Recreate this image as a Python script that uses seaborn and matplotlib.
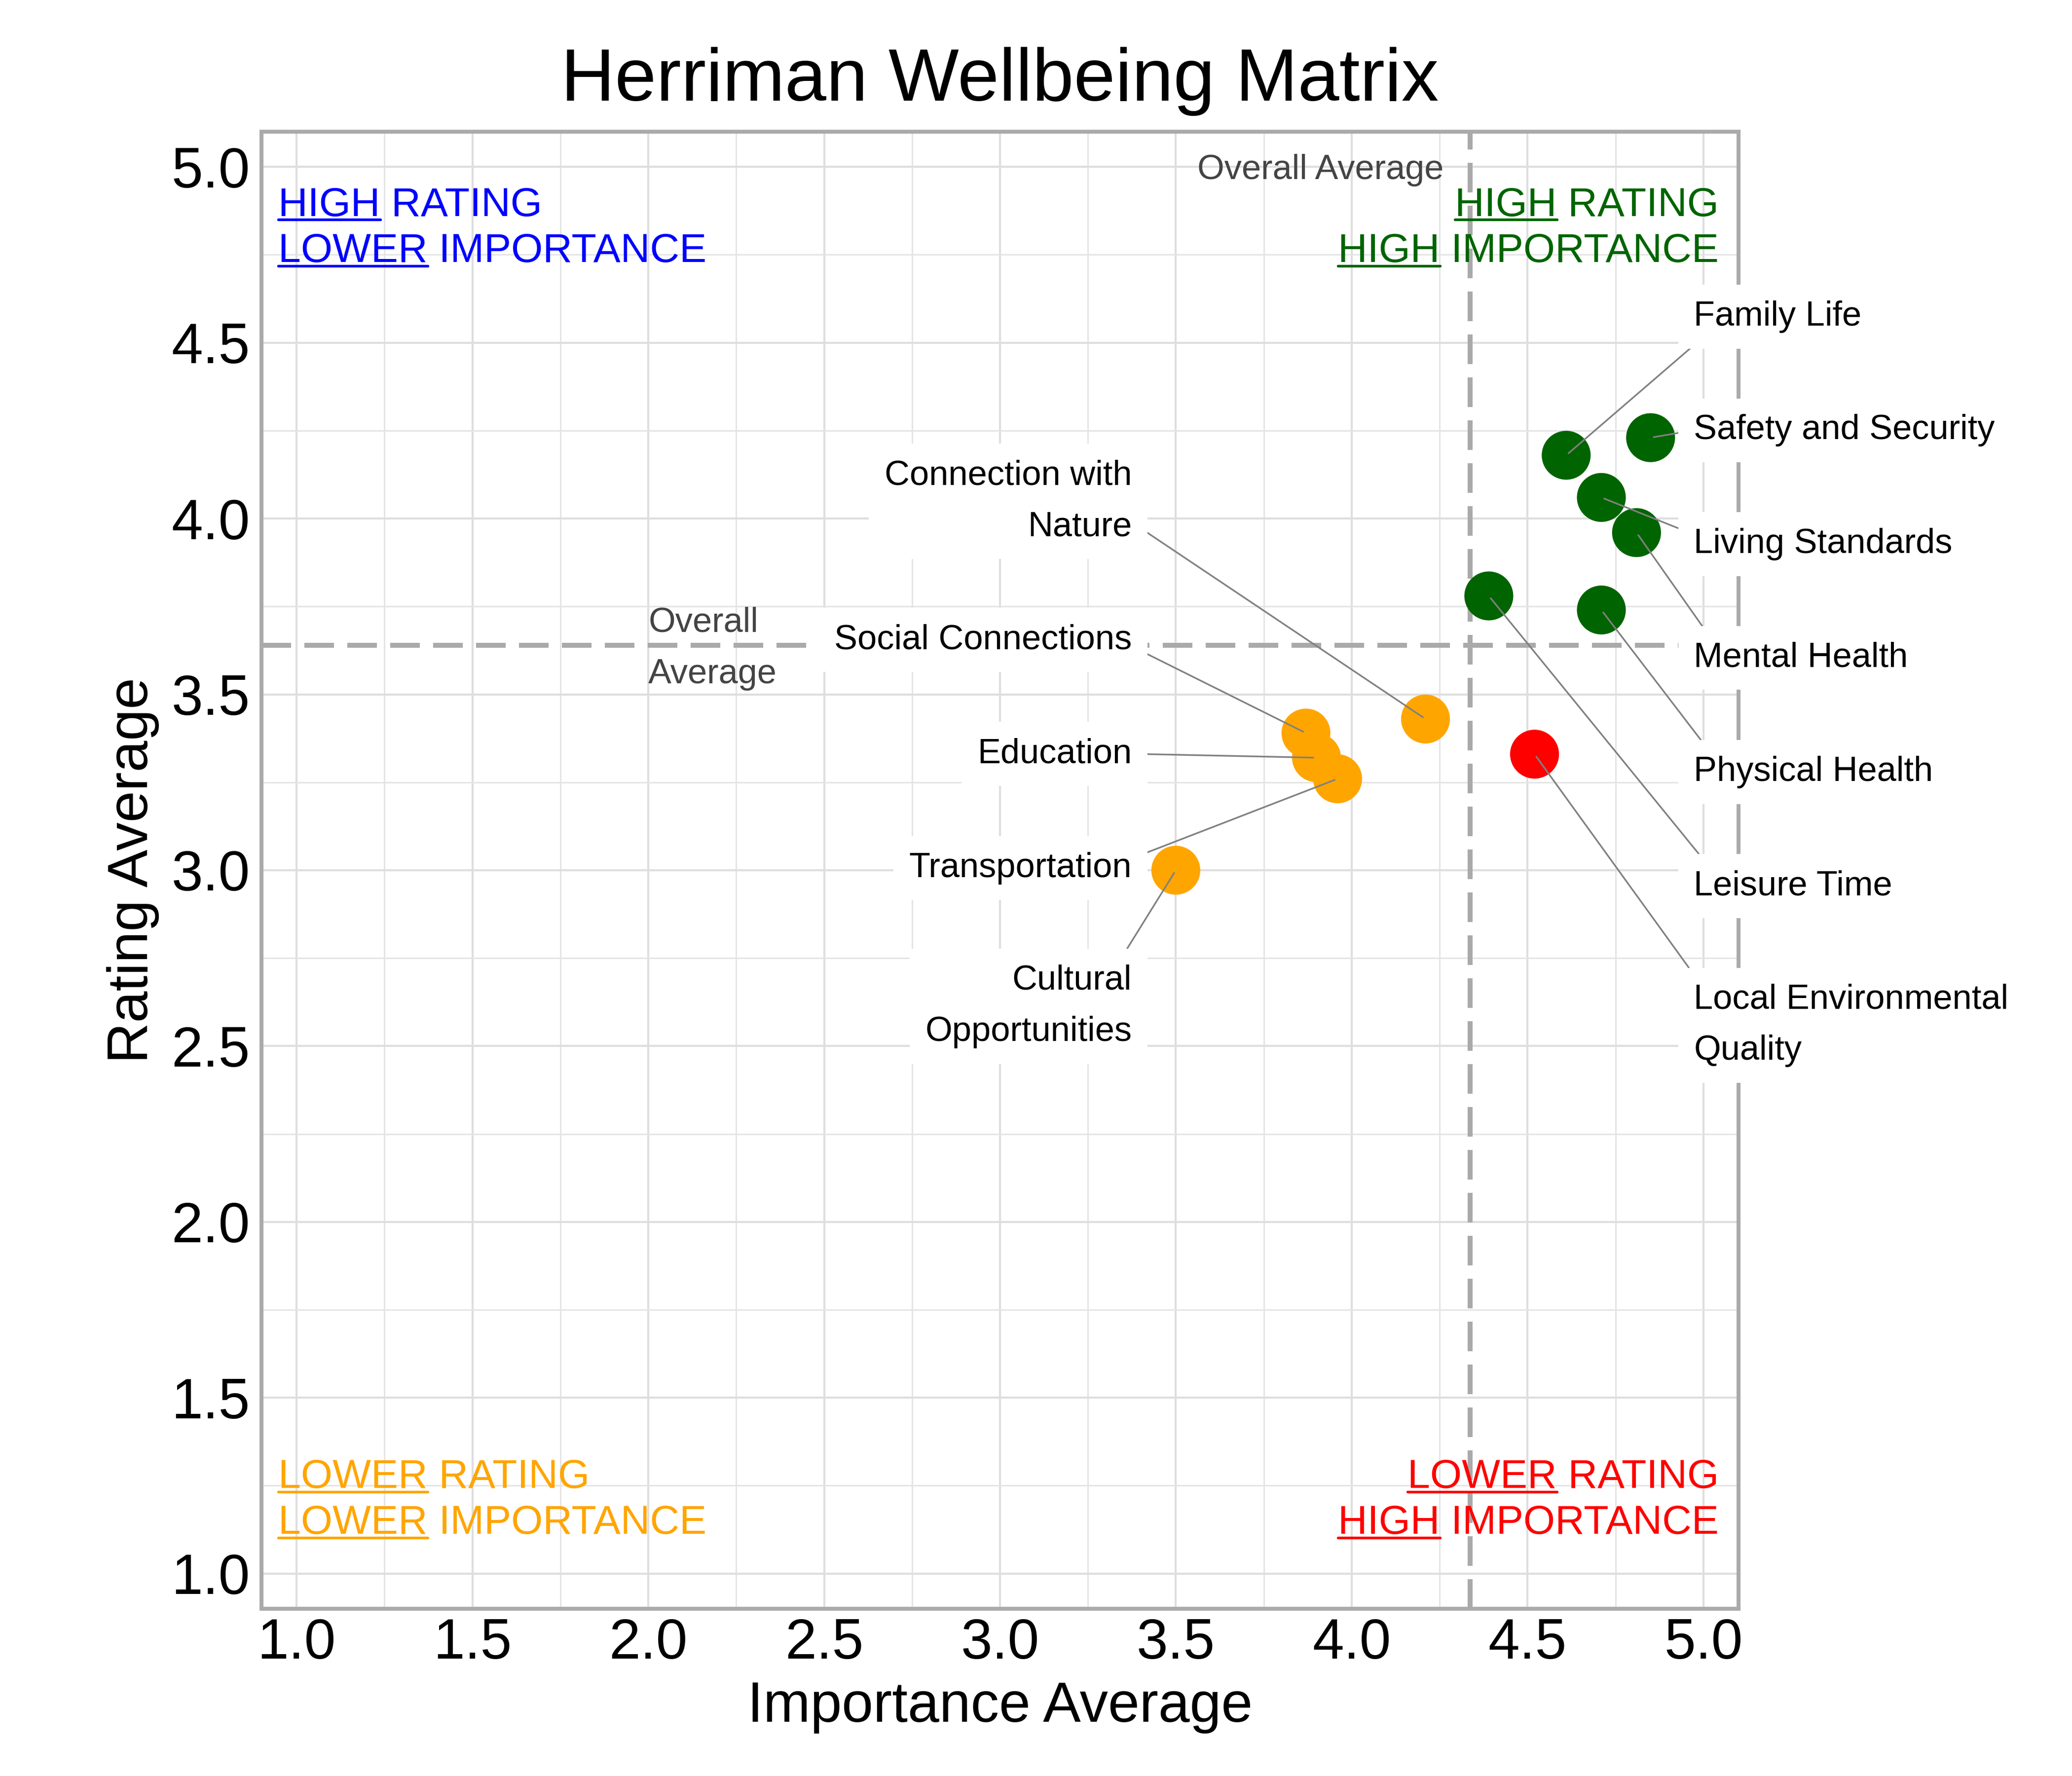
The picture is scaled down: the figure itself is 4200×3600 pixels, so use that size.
import numpy as np
import pandas as pd
import seaborn as sns
import matplotlib.pyplot as plt
from matplotlib.ticker import MultipleLocator, FormatStrFormatter

# ---- data ----
categories = ["Family Life", "Safety and Security", "Living Standards", "Mental Health",
              "Physical Health", "Leisure Time", "Local Environmental Quality",
              "Connection with Nature", "Social Connections", "Education",
              "Transportation", "Cultural Opportunities"]
importance = [4.61, 4.85, 4.71, 4.81, 4.71, 4.39, 4.52, 4.21, 3.87, 3.90, 3.96, 3.50]
rating = [4.18, 4.23, 4.06, 3.96, 3.74, 3.78, 3.33, 3.43, 3.39, 3.32, 3.26, 3.00]

# wrapped text used for the callouts
wrapped = {"Local Environmental Quality": "Local Environmental\nQuality",
           "Connection with Nature": "Connection with\nNature",
           "Cultural Opportunities": "Cultural\nOpportunities"}

# callout placement (label centre in data units, where the leader leaves the box)
label_layout = {
    "Family Life": (4.973, 4.584, (0.085, 0.0)),
    "Safety and Security": (4.973, 4.261, (0.0, 0.5)),
    "Living Standards": (4.973, 3.937, (0.0, 0.8)),
    "Mental Health": (4.973, 3.614, (0.09, 1.0)),
    "Physical Health": (4.973, 3.289, (0.08, 1.0)),
    "Leisure Time": (4.973, 2.965, (0.09, 1.0)),
    "Local Environmental Quality": (4.973, 2.569, (0.02, 1.0)),
    "Connection with Nature": (3.375, 4.059, (1.0, 0.25)),
    "Social Connections": (3.375, 3.665, (1.0, 0.3)),
    "Education": (3.375, 3.341, (1.0, 0.5)),
    "Transportation": (3.375, 3.016, (1.0, 0.8)),
    "Cultural Opportunities": (3.375, 2.623, (0.93, 1.0)),
}

quad_colors = {"hh": "#006400", "lh": "#0000FF", "hl": "#FF0000", "ll": "#FFA500"}

df = pd.DataFrame({"Category": categories, "Importance": importance, "Rating": rating})
mean_x = df["Importance"].mean()
mean_y = df["Rating"].mean()
df["Quadrant"] = [("h" if ix > mean_x else "l") + ("h" if ry > mean_y else "l")
                  for ix, ry in zip(df["Importance"], df["Rating"])]

sns.set_theme(style="whitegrid")
plt.rcParams["font.family"] = ["Liberation Sans", "DejaVu Sans"]

fig = plt.figure(figsize=(14, 12), dpi=300)
ax = fig.add_axes([0.12619, 0.09417, 0.71286, 0.83167])

ax.axvline(mean_x, color="#aaaaaa", lw=2.4, ls=(0, (6, 2.7)), zorder=2)
ax.axhline(mean_y, color="#aaaaaa", lw=2.4, ls=(0, (6, 2.7)), zorder=2)

sns.scatterplot(data=df, x="Importance", y="Rating", hue="Quadrant", palette=quad_colors,
                s=566, linewidth=0, legend=False, ax=ax, zorder=3)

ax.set_xlim(0.9, 5.1)
ax.set_ylim(0.9, 5.1)
for axis in (ax.xaxis, ax.yaxis):
    axis.set_major_locator(MultipleLocator(0.5))
    axis.set_minor_locator(MultipleLocator(0.25))
    axis.set_major_formatter(FormatStrFormatter("%.1f"))
ax.grid(which="major", color="#dedede", lw=1.0)
ax.grid(which="minor", color="#e4e4e4", lw=0.7)
ax.set_axisbelow(True)
ax.tick_params(axis="both", which="both", length=0, labelsize=27.5, colors="black")
ax.tick_params(axis="x", pad=4.3)
ax.tick_params(axis="y", pad=5.5)
for sp in ax.spines.values():
    sp.set_visible(True)
    sp.set_color("#aaaaaa")
    sp.set_linewidth(1.9)

ax.set_xlabel("Importance Average", fontsize=27.5, labelpad=5, color="black")
ax.set_ylabel("Rating Average", fontsize=27.5, labelpad=6, color="black")
ax.set_title("Herriman Wellbeing Matrix", fontsize=36.3, pad=15, color="black")

label_size = 16.9

# overall average notes
ax.text(mean_x - 0.075, 4.99, "Overall Average", ha="right", va="center",
        color="#444444", fontsize=label_size, zorder=4)
ax.text(2.0, mean_y - 0.01, "Overall\nAverage", ha="left", va="center",
        color="#444444", fontsize=label_size, linespacing=1.75, zorder=4)

# callouts with leader lines
for name, ix, ry in zip(df["Category"], df["Importance"], df["Rating"]):
    lx, ly, rel = label_layout[name]
    ha = "left" if lx > ix else "right"
    ax.annotate(wrapped.get(name, name), xy=(ix, ry), xytext=(lx, ly - 0.01),
                ha=ha, va="center", multialignment=ha, fontsize=label_size,
                linespacing=1.75, color="black", zorder=5, annotation_clip=False,
                bbox=dict(boxstyle="square,pad=0.45", fc="white", ec="none"),
                arrowprops=dict(arrowstyle="-", color="#808080", lw=0.8,
                                relpos=rel, shrinkA=0, shrinkB=1.5))

# quadrant captions, first word underlined
quad_size = 19.8
quad_lines = [
    (0.948, 4.860, "HIGH", "RATING", quad_colors["lh"], "left"),
    (0.948, 4.729, "LOWER", "IMPORTANCE", quad_colors["lh"], "left"),
    (5.044, 4.860, "HIGH", "RATING", quad_colors["hh"], "right"),
    (5.044, 4.729, "HIGH", "IMPORTANCE", quad_colors["hh"], "right"),
    (0.948, 1.243, "LOWER", "RATING", quad_colors["ll"], "left"),
    (0.948, 1.113, "LOWER", "IMPORTANCE", quad_colors["ll"], "left"),
    (5.044, 1.243, "LOWER", "RATING", quad_colors["hl"], "right"),
    (5.044, 1.113, "HIGH", "IMPORTANCE", quad_colors["hl"], "right"),
]
renderer = fig.canvas.get_renderer()
for qx, qy, first, rest, col, ha in quad_lines:
    t = ax.text(qx, qy, first + " " + rest, color=col, fontsize=quad_size,
                ha=ha, va="baseline", zorder=4)
    bb = t.get_window_extent(renderer)
    tmp = ax.text(qx, qy, first, fontsize=quad_size, ha="left", va="baseline")
    word_w = tmp.get_window_extent(renderer).width
    tmp.remove()
    base = ax.transData.transform((qx, qy))[1]
    off = 0.09 * quad_size * fig.dpi / 72
    pts = ax.transData.inverted().transform([(bb.x0, base - off), (bb.x0 + word_w, base - off)])
    ax.plot(pts[:, 0], pts[:, 1], color=col, lw=1.3, solid_capstyle="round",
            clip_on=False, zorder=4)

fig.savefig("out.png", dpi=300)
